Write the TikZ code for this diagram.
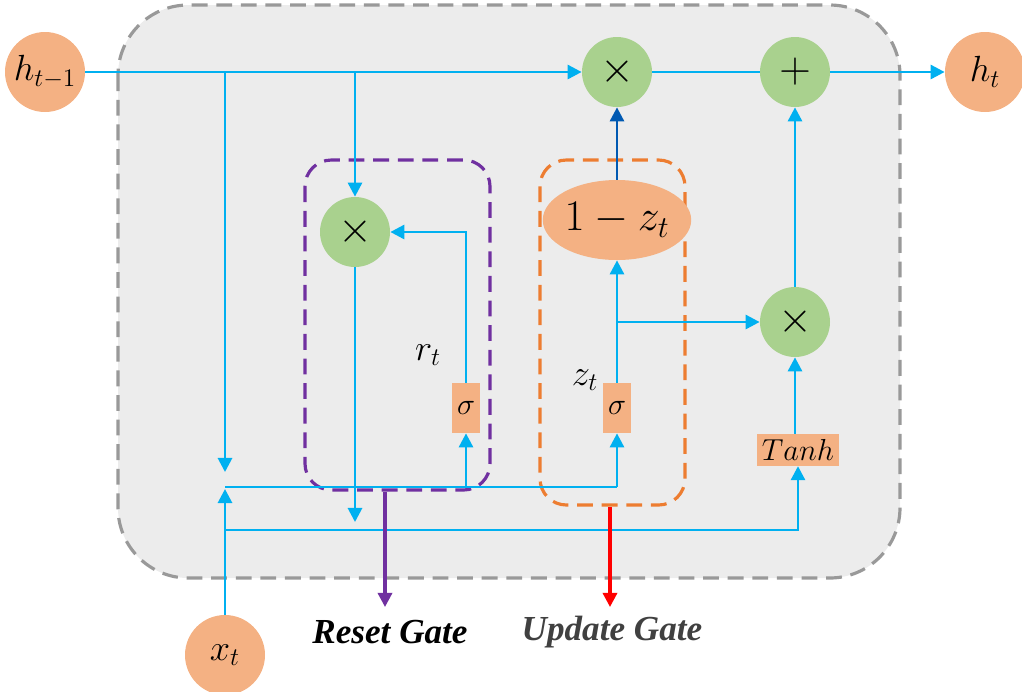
\documentclass[tikz,border=0pt]{standalone}
\usepackage{fontspec}
\newfontfamily\lab{Liberation Serif}
\usetikzlibrary{arrows.meta,shapes.geometric}
\begin{document}
\begin{tikzpicture}[x=0.02cm,y=-0.02cm]
\definecolor{gcol}{HTML}{A9D18E}\definecolor{ocol}{HTML}{F4B183}\definecolor{lcol}{HTML}{00B0F0}
\definecolor{pcol}{HTML}{7030A0}\definecolor{orc}{HTML}{ED7D31}
\tikzset{
 ln/.style={draw=lcol,line width=1.6pt},
 ar/.style={ln,-{Triangle[length=8pt,width=8pt]}},
 dsh/.style={line width=1.8pt,dash pattern=on 9pt off 5pt},
 gc/.style={circle,fill=gcol,minimum size=70*0.02cm,inner sep=0,font=\fontsize{30}{30}\selectfont},
 oc/.style={circle,fill=ocol,minimum size=80*0.02cm,inner sep=0,font=\fontsize{22}{22}\selectfont},
 ob/.style={rectangle,fill=ocol,inner sep=3pt,font=\fontsize{18}{18}\selectfont}}
\useasboundingbox (0,0) rectangle (1022,691);
\draw[gray!80,dsh,fill=gray!15,rounded corners=40] (118,5) rectangle (900,578);
\draw[pcol,dsh,rounded corners=15] (305,160) rectangle (490,490);
\draw[orc,dsh,rounded corners=15] (540,160) rectangle (685,505);
\node[oc] (hp) at (45,72) {$h_{t-1}$};
\node[oc] (ht) at (985,72) {$h_t$};
\node[oc] (xt) at (225,655) {$x_t$};
\node[gc] (m1) at (617,72) {$\times$};
\node[gc] (pl) at (795,72) {$+$};
\node[gc] (m2) at (795,322) {$\times$};
\node[gc] (m3) at (355,232) {$\times$};
\node[ellipse,fill=ocol,minimum width=130*0.02cm,minimum height=80*0.02cm,inner sep=0,font=\fontsize{24}{24}\selectfont] (oz) at (617,220) {$1-z_t$};
\node[ob,minimum height=50*0.02cm] (sr) at (466,408) {$\sigma$};
\node[ob,minimum height=50*0.02cm] (sz) at (617,408) {$\sigma$};
\node[ob] (th) at (798,450) {$Tanh$};
\node[font=\fontsize{20}{20}\selectfont] (rt) at (428,355) {$r_t$};
\node[font=\fontsize{20}{20}\selectfont] (zt) at (585,380) {$z_t$};
\draw[ar] (hp.east) -- (m1.west);
\draw[ar] (225,72) -- (225,472);
\draw[ar] (355,72) -- (m3.north);
\draw[ar] (m3.south) -- (355,522);
\draw[ln] (225,487) -- (617,487);
\draw[ar] (466,487) -- (sr.south);
\draw[ar] (617,487) -- (sz.south);
\draw[ar] (sr.north) |- (m3.east);
\draw[ar] (sz.north) -- (oz.south);
\draw[ar] (617,322) -- (m2.west);
\draw[line width=1.6pt,draw=blue!50!cyan!70!black,-{Triangle[length=8pt,width=8pt]}] (oz.north) -- (m1.south);
\draw[ln] (m1.east) -- (pl.west);
\draw[ar] (pl.east) -- (ht.west);
\draw[ar] (m2.north) -- (pl.south);
\draw[ar] (th.north-|m2) -- (m2.south);
\draw[ar] (xt.north) -- (225,489);
\draw[ar] (225,530) -| (th.south);
\draw[pcol,line width=1.8pt,-{Triangle[length=8pt,width=8pt]}] (385,492) -- (385,607);
\draw[red,line width=1.8pt,-{Triangle[length=8pt,width=8pt]}] (610,507) -- (610,607);
\node[font=\lab\fontsize{20}{20}\selectfont\bfseries\itshape] (rg) at (390,632) {Reset Gate};
\node[font=\lab\fontsize{20}{20}\selectfont\bfseries\itshape,text=darkgray] (ug) at (612,632) {Update Gate};
\end{tikzpicture}
\end{document}
